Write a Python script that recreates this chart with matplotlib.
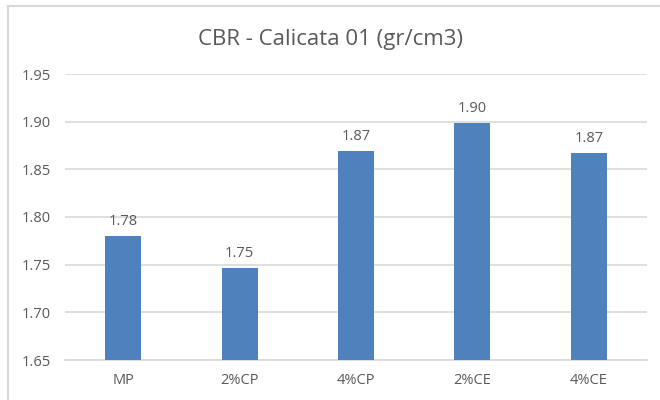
import matplotlib.pyplot as plt
from matplotlib.lines import Line2D

categories = ['MP', '2%CP', '4%CP', '2%CE', '4%CE']
density = [1.78, 1.747, 1.869, 1.899, 1.867]

plt.rcParams['font.family'] = ['Open Sans', 'DejaVu Sans']
text_color = '#595959'
grid_color = '#D9D9D9'

fig = plt.figure(figsize=(6.6, 4.0), dpi=100)
ax = fig.add_axes([65 / 660, 40 / 400, 582 / 660, 286 / 400])

x = range(len(categories))
bars = ax.bar(x, density, width=0.31, bottom=0, color='#4F81BD', zorder=3)

ax.set_ylim(1.65, 1.95)
ax.set_xlim(-0.5, len(categories) - 0.5)
ax.set_yticks([1.65, 1.70, 1.75, 1.80, 1.85, 1.90, 1.95])
ax.yaxis.set_major_formatter(plt.FormatStrFormatter('%.2f'))
ax.set_xticks(list(x))
ax.set_xticklabels(categories)
ax.tick_params(axis='both', length=0, colors=text_color, labelsize=10.5)
ax.tick_params(axis='y', pad=10)
ax.tick_params(axis='x', pad=9)
ax.grid(axis='y', color=grid_color, linewidth=1.2, zorder=0)
for side in ['top', 'right', 'left']:
    ax.spines[side].set_visible(False)
ax.spines['bottom'].set_color(grid_color)
ax.spines['bottom'].set_linewidth(1.2)

for rect, v in zip(bars, density):
    ax.annotate(f'{v:.2f}', (rect.get_x() + rect.get_width() / 2, v),
                xytext=(0, 5), textcoords='offset points',
                ha='center', va='bottom', color=text_color, fontsize=10.5)

fig.text(0.5, 1 - 40 / 400, 'CBR - Calicata 01 (gr/cm3)', ha='center', va='center',
         color=text_color, fontsize=16)

# chart frame (top and left edges)
fig.add_artist(Line2D([8 / 660, 8 / 660], [0, 1 - 6 / 400], transform=fig.transFigure,
                      color=grid_color, linewidth=1.5))
fig.add_artist(Line2D([8 / 660, 1], [1 - 6 / 400, 1 - 6 / 400], transform=fig.transFigure,
                      color=grid_color, linewidth=1.5))

fig.savefig('out.png', dpi=100)
